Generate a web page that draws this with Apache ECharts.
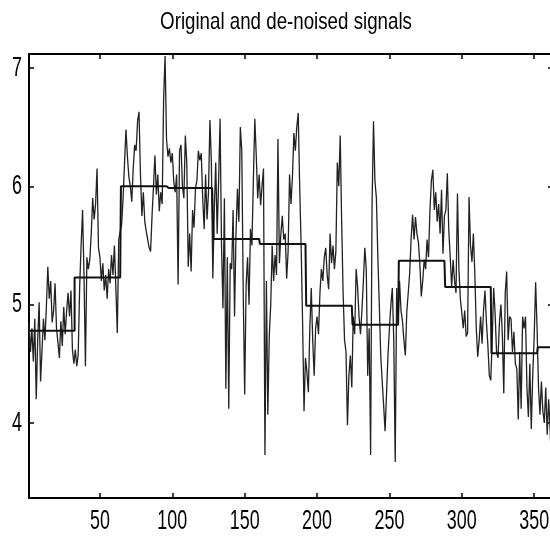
<!DOCTYPE html>
<html>
<head>
<meta charset="utf-8">
<script src="https://cdn.jsdelivr.net/npm/echarts@6/dist/echarts.min.js"></script>
<style>
html,body{margin:0;padding:0;background:#fff;}
#c{width:550px;height:543px;}
</style>
</head>
<body>
<div id="c"></div>
<script>
// Noisy original signal (index 1..363)
const noisy = [
4.85,4.60,4.80,4.52,4.88,4.20,4.70,5.02,4.35,4.62,4.88,4.70,4.98,5.32,5.05,5.20,4.85,4.95,5.18,4.80,4.68,4.55,4.86,4.65,4.98,4.75,4.95,5.10,4.90,5.12,4.62,4.50,
4.62,4.48,4.58,5.15,5.50,5.80,5.25,4.48,5.40,5.30,5.38,5.60,5.90,5.72,5.85,6.15,5.48,5.40,5.20,5.35,5.12,5.25,5.05,5.30,5.18,5.42,5.25,5.50,5.15,4.76,5.55,5.62,
5.68,5.90,6.20,6.48,6.25,6.08,6.00,5.87,6.15,6.35,6.30,6.55,6.63,6.10,5.75,5.95,5.70,5.62,5.55,5.48,5.45,5.75,6.00,6.26,5.93,6.10,5.79,5.95,5.85,6.74,7.10,6.40,
6.25,6.32,6.20,6.28,6.04,5.95,6.10,5.17,6.30,6.35,6.00,5.90,6.43,6.20,5.32,5.60,5.28,5.80,5.65,5.98,6.05,6.30,6.22,6.28,5.90,5.64,6.10,5.72,5.95,6.56,6.20,5.22,
5.80,6.20,5.60,6.05,6.57,5.50,4.97,5.90,4.29,5.40,4.12,5.35,5.30,5.80,4.90,5.60,5.98,5.70,6.50,6.30,5.10,4.24,5.17,5.40,5.00,5.64,5.50,6.05,6.57,6.26,5.90,6.10,
5.84,6.00,6.15,3.73,5.20,4.07,4.74,5.00,5.50,5.20,5.42,5.25,6.40,5.35,5.60,5.75,5.55,5.60,5.22,5.45,6.10,5.85,6.08,6.45,6.30,6.50,6.62,6.00,5.50,4.86,4.10,4.55,
4.43,4.26,4.80,5.14,4.70,4.40,4.80,4.90,4.75,5.10,5.30,5.20,5.40,5.48,5.25,5.13,5.60,5.35,5.50,5.30,5.45,6.20,6.00,6.43,5.70,5.10,4.70,4.60,3.98,4.40,4.57,4.30,
4.90,4.75,5.30,5.15,4.90,4.75,4.95,5.20,5.48,5.30,4.40,4.80,3.73,5.84,6.55,6.04,5.90,5.40,5.00,4.57,4.35,4.15,3.93,4.25,4.57,4.80,5.00,5.14,4.70,3.67,5.14,4.86,
5.20,4.95,4.86,4.70,4.57,4.94,5.10,5.27,5.56,5.76,5.55,5.74,5.60,5.53,5.35,5.07,5.20,5.38,5.30,5.55,5.40,5.80,6.05,6.14,5.80,5.95,5.70,5.85,5.60,5.97,5.43,5.75,
5.80,6.11,5.63,5.40,5.15,5.38,5.20,5.10,5.94,5.30,5.05,4.93,4.80,4.95,4.73,4.76,5.91,5.50,5.36,5.60,5.26,4.80,4.56,4.70,4.90,4.67,4.95,5.12,4.85,4.66,4.40,4.36,
4.70,5.14,4.93,4.60,4.55,4.85,5.00,4.75,4.25,5.10,5.28,4.70,4.90,4.88,4.60,4.77,4.50,4.46,4.03,4.60,4.12,4.90,4.80,4.90,4.30,4.05,4.50,3.95,4.40,4.73,5.19,4.80,
4.30,4.07,4.35,4.10,4.00,4.30,3.90,4.20,3.95,3.62,4.00
];
// De-noised (Haar, blocks of 32 samples) levels
const blockSize = 32;
const levels = [4.78,5.23,6.00,5.985,5.555,5.513,4.99,4.83,5.37,5.15,4.59,4.64];
const xTicks = [50,100,150,200,250,300,350];
const yTicks = [4,5,6,7];
const titleText = 'Original and de-noised signals';

const noisyData = noisy.map((v,i)=>[i+1,v]);
const denoisedData = noisy.map((v,i)=>[i+1, levels[Math.floor(i/blockSize)]]);

const FONT = '"Liberation Sans","Arial",sans-serif';
const LABEL_SIZE = 28, LABEL_SX = 0.64;
const chart = echarts.init(document.getElementById('c'), null, {renderer:'canvas'});
const axisCommon = {
  type:'value', splitLine:{show:false},
  axisLine:{show:true, lineStyle:{color:'#000', width:2}},
  axisLabel:{show:false}
};
function tick(vals){ return {show:true, inside:true, length:5, customValues:vals, lineStyle:{color:'#000', width:1.5}}; }
chart.setOption({
  animation:false,
  backgroundColor:'#fff',
  grid:{left:29, top:54, width:524, height:444, containLabel:false, outerBoundsMode:'none'},
  xAxis:[
    Object.assign({}, axisCommon, {position:'bottom', min:1, max:363, axisTick:tick(xTicks)}),
    Object.assign({}, axisCommon, {position:'top', min:1, max:363, axisTick:tick(xTicks)})
  ],
  yAxis:[
    Object.assign({}, axisCommon, {position:'left', min:3.366, max:7.118, axisTick:tick(yTicks)}),
    Object.assign({}, axisCommon, {position:'right', min:3.366, max:7.118, axisTick:tick(yTicks)})
  ],
  series:[
    {type:'line', data:noisyData, xAxisIndex:0, yAxisIndex:0, showSymbol:false, symbol:'none',
     lineStyle:{color:'#222', width:1.3}, clip:true},
    {type:'line', data:denoisedData, xAxisIndex:0, yAxisIndex:0, showSymbol:false, symbol:'none', step:'middle',
     lineStyle:{color:'#111', width:2}, clip:true}
  ]
});

// Condensed (horizontally squeezed) tick labels and title, positioned through the axes' scales
const graphics = [];
const axisBottomY = chart.convertToPixel({yAxisIndex:0}, 3.366);
const axisLeftX = chart.convertToPixel({xAxisIndex:0}, 1);
xTicks.forEach(v=>{
  graphics.push({type:'text', x:chart.convertToPixel({xAxisIndex:0}, v), y:axisBottomY+23, scaleX:LABEL_SX,
    style:{text:String(v), fontFamily:FONT, fontSize:LABEL_SIZE, fill:'#000', textAlign:'center', textVerticalAlign:'middle'}});
});
yTicks.forEach(v=>{
  graphics.push({type:'text', x:axisLeftX-7, y:chart.convertToPixel({yAxisIndex:0}, v), scaleX:LABEL_SX,
    style:{text:String(v), fontFamily:FONT, fontSize:LABEL_SIZE, fill:'#000', textAlign:'right', textVerticalAlign:'middle'}});
});
graphics.push({type:'text', x:286, y:22, scaleX:0.78,
  style:{text:titleText, fontFamily:FONT, fontSize:24, fill:'#000', textAlign:'center', textVerticalAlign:'middle'}});
chart.setOption({graphic:graphics});
</script>
</body>
</html>
